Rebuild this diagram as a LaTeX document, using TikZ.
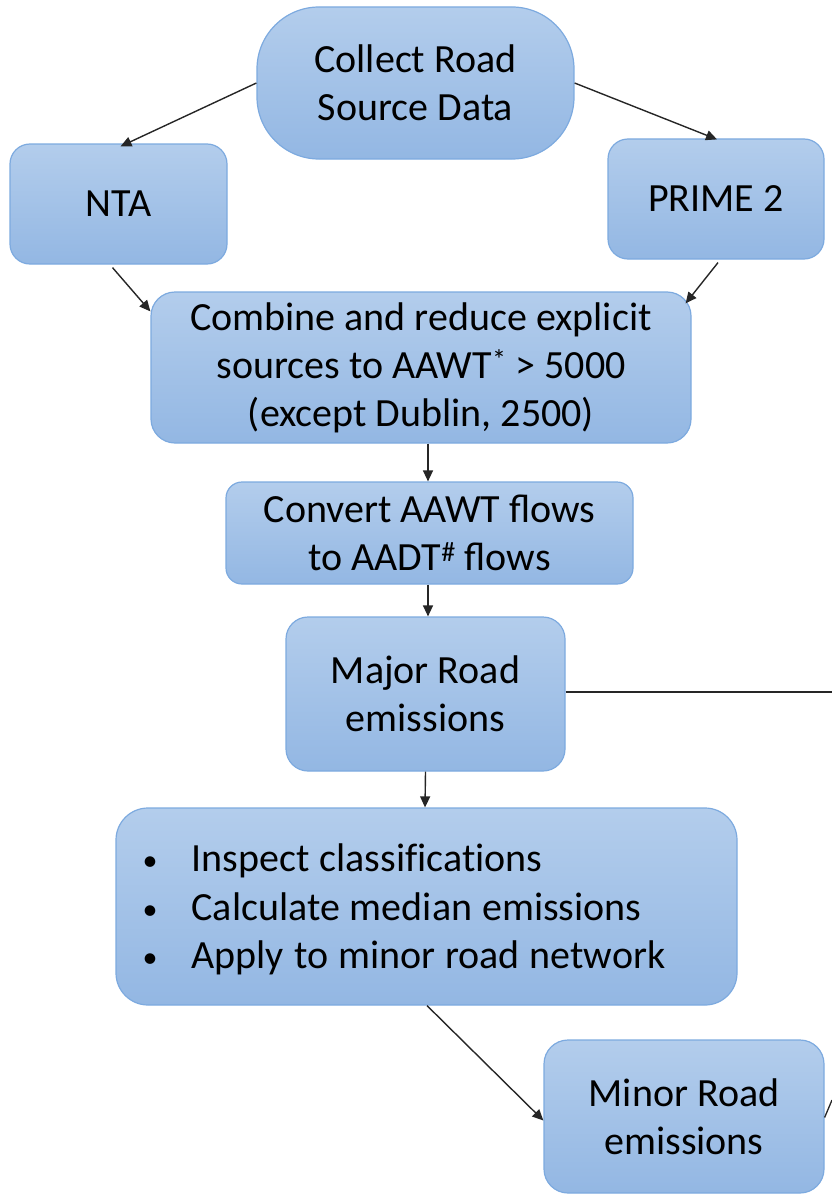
\documentclass[tikz,border=0pt]{standalone}
\usepackage{fontspec}
\setmainfont{Carlito}
\newfontfamily\bulletfont[Ligatures=NoCommon]{Carlito}
\usetikzlibrary{arrows.meta,calc}
\definecolor{boxtop}{HTML}{B3CDEC}
\definecolor{boxbot}{HTML}{93B7E3}
\definecolor{boxline}{HTML}{7DAADF}
\definecolor{arr}{HTML}{262626}
\newcommand{\bitem}{\makebox[51pt][l]{\hspace{2pt}\raisebox{1pt}{\fontsize{30}{30}\selectfont\textbullet}}}
\newcommand{\bulletlines}{\spaceskip=10pt\relax
  \bitem Inspect classifications\\\bitem Calculate median emissions\\\bitem Apply to minor road network}
\tikzset{
  box/.style={rectangle, rounded corners=20pt, top color=boxtop, bottom color=boxbot,
    draw=boxline, line width=1.2pt, align=center, inner sep=0pt,
    font=\fontsize{40}{48}\selectfont, text=black},
  listtext/.style={inner sep=0pt, text width=571pt, align=left,
    font=\bulletfont\fontsize{40}{48.5}\selectfont, text=black},
  conn/.style={draw=arr, line width=1.4pt, -{Triangle[length=11pt,width=10pt]}},
  plain/.style={draw=arr, line width=1.3pt}
}
\begin{document}
\begin{tikzpicture}[x=1pt,y=-1pt]
\useasboundingbox (0,0) rectangle (832,1196);
\node[box, rounded corners=62pt, minimum width=317pt, minimum height=152pt] (collect) at (415.5,83) {Collect Road\\Source Data};
\node[box, minimum width=217pt, minimum height=120pt] (nta) at (118.5,204) {NTA};
\node[box, minimum width=216pt, minimum height=120pt] (prime) at (716,199) {PRIME 2};
\node[box, rounded corners=24pt, minimum width=540pt, minimum height=151pt] (combine) at (421,367.5) {Combine and reduce explicit\\sources to AAWT\textsuperscript{*} > 5000\\(except Dublin, 2500)};
\node[box, rounded corners=16pt, minimum width=407pt, minimum height=102pt] (convert) at (429.5,533) {Convert AAWT flows\\to AADT\textsuperscript{\#} flows};
\node[box, rounded corners=22pt, minimum width=279pt, minimum height=154pt] (major) at (425.5,694) {Major Road\\emissions};
\node[box, rounded corners=32pt, minimum width=621pt, minimum height=197pt] (bullets) at (426.5,906.5) {};
\node[listtext, anchor=west] (blist) at ([xshift=25pt,yshift=-3pt]bullets.west) {\bulletlines};
\node[box, rounded corners=24pt, minimum width=280pt, minimum height=153pt] (minor) at (684,1116.5) {Minor Road\\emissions};
\coordinate (edge1) at (832,692);
\coordinate (edge2) at (832,1100);
\draw[conn] (collect.west) -- ([xshift=2pt,yshift=-3pt]nta.north);
\draw[conn] (collect.east) -- ([xshift=1pt,yshift=-1pt]prime.north);
\draw[conn] ([xshift=-6pt,yshift=-3pt]nta.south) -- ([yshift=-20pt]combine.north west);
\draw[conn] ([xshift=2pt,yshift=-3pt]prime.south) -- ([xshift=-6pt,yshift=-12pt]combine.north east);
\draw[conn] ([xshift=7pt]combine.south) -- ([xshift=-1.5pt]convert.north);
\draw[conn] ([xshift=-1.5pt]convert.south) -- ([xshift=2.5pt]major.north);
\draw[conn] (major.south) -- ([xshift=-1.5pt]bullets.north);
\draw[conn] ([xshift=0.5pt]bullets.south) -- ([yshift=-4pt]minor.west);
\draw[plain] ([yshift=2pt]major.east) -- (edge1);
\draw[plain] ([yshift=-1pt]minor.east) -- (edge2);
\end{tikzpicture}
\end{document}
